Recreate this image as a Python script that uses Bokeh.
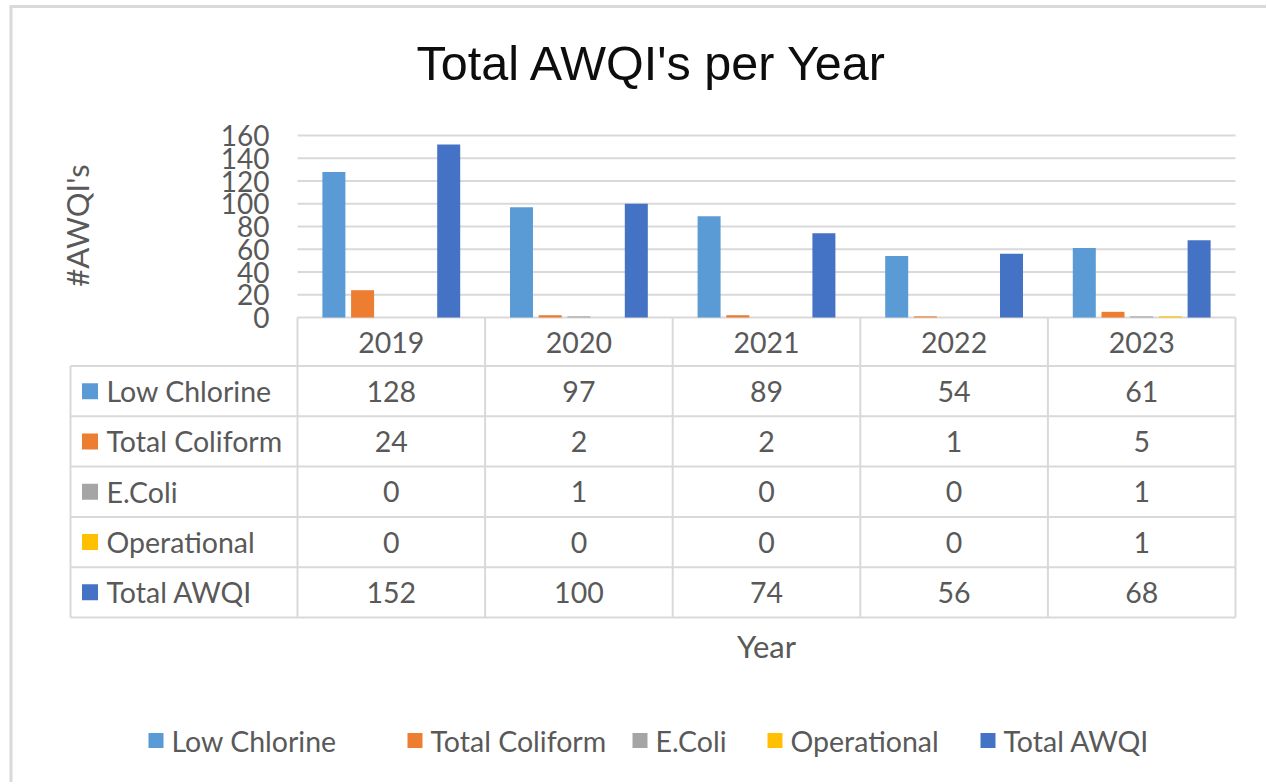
import math
from bokeh.plotting import figure
from bokeh.models import Range1d, ColumnDataSource
from bokeh.transform import dodge
from bokeh.embed import file_html
from bokeh.resources import INLINE
from bokeh.core.properties import value

# ---------------- data ----------------
years = ["2019", "2020", "2021", "2022", "2023"]
series_names = ["Low Chlorine", "Total Coliform", "E.Coli", "Operational", "Total AWQI"]
low_chlorine = [128, 97, 89, 54, 61]
total_coliform = [24, 2, 2, 1, 5]
e_coli = [0, 1, 0, 0, 1]
operational = [0, 0, 0, 0, 1]
total_awqi = [152, 100, 74, 56, 68]
y_ticks = [0, 20, 40, 60, 80, 100, 120, 140, 160]

# ---------------- style / layout (page pixels) ----------------
colors = ["#5B9BD5", "#ED7D31", "#A5A5A5", "#FFC000", "#4472C4"]
GREY_TXT = "#595959"
GRID = "#D9D9D9"
FONT = "Lato"
W, H = 1266, 782
PLOT_L, PLOT_R = 297, 1235          # bar area / table year columns
PLOT_T, PLOT_B = 135, 317           # value 160 / value 0
Y_MAX = 160
COL_W = (PLOT_R - PLOT_L) / len(years)
PX_PER_VAL = (PLOT_B - PLOT_T) / Y_MAX
offsets = [-0.306, -0.153, 0.0, 0.153, 0.306]
BAR_W = 0.1226

all_series = [low_chlorine, total_coliform, e_coli, operational, total_awqi]

p = figure(width=W, height=H,
           x_range=Range1d(0, W), y_range=Range1d(H, 0),
           x_axis_location=None, y_axis_location=None,
           output_backend="svg", toolbar_location=None, min_border=0)
p.outline_line_color = None
p.grid.visible = False

# scales for the bar chart: categories (one unit per year) and counts
p.extra_x_ranges = {"yr": Range1d(-PLOT_L / COL_W, (W - PLOT_L) / COL_W)}
p.extra_y_ranges = {"count": Range1d((PLOT_B - H) / PX_PER_VAL, PLOT_B / PX_PER_VAL)}

# ---- gridlines (value axis) ----
n_years = len(years)
p.segment(x0=[0] * len(y_ticks), x1=[n_years] * len(y_ticks), y0=y_ticks, y1=y_ticks,
          x_range_name="yr", y_range_name="count", line_color=GRID, line_width=2)

# ---- bars ----
data = {"xc": [i + 0.5 for i in range(n_years)]}
keys = []
for i, s in enumerate(all_series):
    k = "s%d" % i
    data[k] = s
    keys.append(k)
src = ColumnDataSource(data)
for k, off, c in zip(keys, offsets, colors):
    p.vbar(x=dodge("xc", off, range=p.extra_x_ranges["yr"]), top=k, bottom=0,
           width=BAR_W, fill_color=c, line_color=None, source=src,
           x_range_name="yr", y_range_name="count")

# ---- value-axis tick labels ----
p.text(x=[269] * len(y_ticks), y=y_ticks, text=[str(t) for t in y_ticks],
       y_range_name="count", text_font=value(FONT), text_font_size="28px",
       text_color=GREY_TXT, text_align="right", text_baseline="middle",
       text_line_height=1.0)

# ---- value-axis title ----
p.text(x=[76], y=[225], text=["#AWQI's"], angle=math.pi / 2,
       text_font=value(FONT), text_font_size="31px", text_color=GREY_TXT,
       text_align="center", text_baseline="middle")

# ---- chart title ----
p.text(x=[652], y=[62], text=["Total AWQI's per Year"],
       text_font=value("Liberation Sans"), text_font_size="48.5px",
       text_color="#0d0d0d", text_align="center", text_baseline="middle")

# ---- chart-area border (top and left) ----
p.segment(x0=[10.5, 9], y0=[6, 6], x1=[10.5, W], y1=[H, 6],
          line_color=GRID, line_width=3)

# ---- data table ----
TABLE_L = 70
HEAD_B = 365.5
TABLE_B = 617
ROW_H = (TABLE_B - HEAD_B) / len(series_names)
row_edges = [HEAD_B + i * ROW_H for i in range(len(series_names) + 1)]
row_centers = [HEAD_B + (i + 0.5) * ROW_H for i in range(len(series_names))]
col_edges = [PLOT_L + i * COL_W for i in range(n_years + 1)]
col_centers = [PLOT_L + (i + 0.5) * COL_W for i in range(n_years)]

x0, y0, x1, y1 = [], [], [], []
for ye in row_edges:
    x0.append(TABLE_L); x1.append(PLOT_R); y0.append(ye); y1.append(ye)
x0.append(TABLE_L); x1.append(TABLE_L); y0.append(HEAD_B); y1.append(TABLE_B)
for xe in col_edges:
    x0.append(xe); x1.append(xe); y0.append(PLOT_B); y1.append(TABLE_B)
p.segment(x0=x0, y0=y0, x1=x1, y1=y1, line_color=GRID, line_width=2)

TXT = dict(text_font=value(FONT), text_font_size="28.5px", text_color=GREY_TXT,
           text_baseline="middle")

# header years
p.text(x=col_centers, y=[342] * n_years, text=years, text_align="center", **TXT)

# row labels with colour keys
p.rect(x=[89.5] * len(series_names), y=row_centers, width=16, height=16,
       fill_color=colors, line_color=None)
p.text(x=[106] * len(series_names), y=row_centers, text=series_names,
       text_align="left", **TXT)

# cell values
cx, cy, ct = [], [], []
for r, s in enumerate(all_series):
    for c, v in enumerate(s):
        cx.append(col_centers[c]); cy.append(row_centers[r]); ct.append(str(v))
p.text(x=cx, y=cy, text=ct, text_align="center", **TXT)

# category-axis title
p.text(x=[766], y=[645], text=["Year"], text_font=value(FONT),
       text_font_size="31px", text_color=GREY_TXT,
       text_align="center", text_baseline="middle")

# ---- bottom legend ----
legend_left = [148, 407, 632, 767, 980]
LEG_Y = 740
p.rect(x=[l + 7.5 for l in legend_left], y=[LEG_Y] * len(series_names),
       width=15, height=15, fill_color=colors, line_color=None)
p.text(x=[l + 23 for l in legend_left], y=[LEG_Y] * len(series_names),
       text=series_names, text_align="left", **TXT)

open("out.html", "w").write(file_html(p, INLINE))
